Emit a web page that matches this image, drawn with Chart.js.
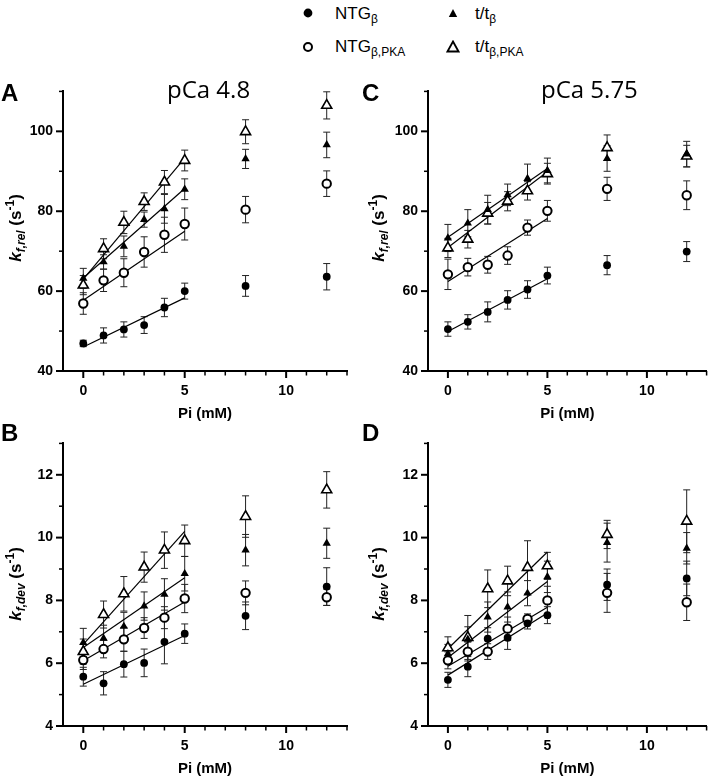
<!DOCTYPE html>
<html>
<head>
<meta charset="utf-8">
<script src="https://cdn.jsdelivr.net/npm/chart.js@4.4.1/dist/chart.umd.min.js"></script>
<style>
  body { margin: 0; background: #fff; font-family: "Liberation Sans", Arial, sans-serif; }
  #page { position: relative; width: 714px; height: 779px; overflow: hidden; }
  canvas { position: absolute; }
  .txt { position: absolute; white-space: nowrap; color: #000; line-height: 1; }
  .leg { font-size: 17px; }
  .leg sub { font-size: 12px; vertical-align: -4px; line-height: 0; }
  .letter { font-size: 24px; font-weight: bold; }
  .pca { font-family: "Open Sans", sans-serif; font-size: 24px; }
  .ytitle { font-size: 17px; font-weight: bold; transform: translate(-50%, -50%) rotate(-90deg); }
  .ytitle sub { font-size: 12px; vertical-align: -4px; line-height: 0; }
  .ytitle sup { font-size: 12px; vertical-align: 7px; line-height: 0; }
  .mk { position: absolute; }
</style>
</head>
<body>
<div id="page">
  <!-- legend -->
  <svg class="mk" style="left:303px;top:8px" width="10" height="10"><circle cx="5" cy="5" r="4.4" fill="#000"/></svg>
  <div class="txt leg" style="left:335px;top:5px">NTG<sub>β</sub></div>
  <svg class="mk" style="left:448px;top:8px" width="10" height="10"><polygon points="5,1 9.2,9 0.8,9" fill="#000"/></svg>
  <div class="txt leg" style="left:475px;top:5px">t/t<sub>β</sub></div>
  <svg class="mk" style="left:302px;top:41px" width="12" height="12"><circle cx="6" cy="6" r="4" fill="#fff" stroke="#000" stroke-width="2"/></svg>
  <div class="txt leg" style="left:335px;top:38px">NTG<sub>β,PKA</sub></div>
  <svg class="mk" style="left:446px;top:40px" width="14" height="13"><polygon points="7,1.5 12.5,11.5 1.5,11.5" fill="#fff" stroke="#000" stroke-width="1.8"/></svg>
  <div class="txt leg" style="left:475px;top:38px">t/t<sub>β,PKA</sub></div>

  <canvas id="chartA" width="357" height="343" style="left:0;top:80px"></canvas>
  <canvas id="chartC" width="354" height="343" style="left:360px;top:80px"></canvas>
  <canvas id="chartB" width="357" height="346" style="left:0;top:432px"></canvas>
  <canvas id="chartD" width="354" height="346" style="left:360px;top:432px"></canvas>

  <div class="txt letter" style="left:1px;top:81px">A</div>
  <div class="txt letter" style="left:362px;top:81px">C</div>
  <div class="txt letter" style="left:1px;top:421px">B</div>
  <div class="txt letter" style="left:362px;top:421px">D</div>

  <div class="txt pca" style="left:167px;top:77px">pCa 4.8</div>
  <div class="txt pca" style="left:541px;top:77px">pCa 5.75</div>

  <div class="txt ytitle" style="left:15px;top:228px"><i>k</i><sub><i>f,rel</i></sub> (s<sup>-1</sup>)</div>
  <div class="txt ytitle" style="left:378px;top:228px"><i>k</i><sub><i>f,rel</i></sub> (s<sup>-1</sup>)</div>
  <div class="txt ytitle" style="left:15px;top:584px"><i>k</i><sub><i>f,dev</i></sub> (s<sup>-1</sup>)</div>
  <div class="txt ytitle" style="left:378px;top:584px"><i>k</i><sub><i>f,dev</i></sub> (s<sup>-1</sup>)</div>
</div>

<script>
// Pi concentrations (mM) and the range of the linear fits
const pi = [0, 1, 2, 3, 4, 5, 8, 12];
const fitPi = [0, 5];

// A: kf,rel at pCa 4.8
const A_ntg = [46.9, 48.9, 50.4, 51.5, 55.9, 60.0, 61.3, 63.6];
const A_ntgErr = [0.8, 1.9, 1.9, 2.1, 2.3, 2.0, 2.6, 3.3];
const A_ntgFit = [46.0, 58.3];
const A_ntgPka = [56.9, 62.7, 64.6, 69.8, 74.1, 76.8, 80.4, 86.9];
const A_ntgPkaErr = [2.7, 2.8, 3.5, 3.8, 4.4, 4.0, 3.3, 3.2];
const A_ntgPkaFit = [57.7, 75.0];
const A_tt = [63.2, 67.3, 71.2, 77.9, 80.6, 85.5, 93.1, 96.6];
const A_ttErr = [2.5, 1.8, 2.6, 1.9, 3.6, 2.6, 2.4, 3.2];
const A_ttFit = [63.3, 85.7];
const A_ttPka = [61.5, 70.6, 77.2, 82.4, 87.3, 92.7, 99.9, 106.5];
const A_ttPkaErr = [2.4, 2.5, 2.8, 2.2, 2.9, 2.6, 3.0, 3.4];
const A_ttPkaFit = [63.0, 93.3];

// C: kf,rel at pCa 5.75
const C_ntg = [50.5, 52.3, 54.8, 57.8, 60.4, 63.9, 66.5, 69.9];
const C_ntgErr = [1.8, 1.8, 2.5, 2.3, 2.2, 2.1, 2.4, 2.5];
const C_ntgFit = [49.9, 63.1];
const C_ntgPka = [64.2, 66.0, 66.6, 68.9, 75.9, 80.1, 85.6, 84.0];
const C_ntgPkaErr = [3.8, 2.2, 2.1, 2.2, 1.9, 2.6, 2.9, 3.6];
const C_ntgPkaFit = [62.4, 78.2];
const C_tt = [73.3, 77.0, 80.4, 84.1, 88.2, 90.2, 93.2, 94.3];
const C_ttErr = [3.4, 3.4, 3.6, 2.7, 3.6, 3.1, 3.2, 3.2];
const C_ttFit = [73.5, 90.7];
const C_ttPka = [70.8, 73.0, 79.5, 82.5, 85.1, 89.4, 95.9, 93.8];
const C_ttPkaErr = [2.4, 2.2, 2.7, 2.4, 2.3, 2.6, 3.2, 2.7];
const C_ttPkaFit = [70.9, 89.9];

// B: kf,dev at pCa 4.8
const B_ntg = [5.57, 5.36, 5.97, 6.01, 6.68, 6.94, 7.51, 8.44];
const B_ntgErr = [0.3, 0.37, 0.41, 0.44, 0.7, 0.31, 0.44, 0.6];
const B_ntgFit = [5.33, 6.88];
const B_ntgPka = [6.1, 6.45, 6.76, 7.12, 7.45, 8.06, 8.24, 8.1];
const B_ntgPkaErr = [0.3, 0.28, 0.38, 0.33, 0.35, 0.45, 0.38, 0.26];
const B_ntgPkaFit = [6.08, 7.95];
const B_tt = [6.66, 6.79, 7.17, 7.82, 8.19, 8.85, 9.6, 9.82];
const B_ttErr = [0.45, 0.42, 0.45, 0.45, 0.5, 0.55, 0.5, 0.48];
const B_ttFit = [6.5, 8.72];
const B_ttPka = [6.37, 7.55, 8.21, 9.06, 9.6, 9.9, 10.67, 11.52];
const B_ttPkaErr = [0.4, 0.43, 0.55, 0.48, 0.58, 0.5, 0.66, 0.58];
const B_ttPkaFit = [6.6, 10.2];

// D: kf,dev at pCa 5.75
const D_ntg = [5.47, 5.89, 6.78, 6.81, 7.27, 7.53, 8.5, 8.7];
const D_ntgErr = [0.24, 0.32, 0.35, 0.37, 0.18, 0.27, 0.5, 0.55];
const D_ntgFit = [5.62, 7.6];
const D_ntgPka = [6.09, 6.37, 6.37, 7.1, 7.41, 8.0, 8.24, 7.94];
const D_ntgPkaErr = [0.27, 0.3, 0.25, 0.37, 0.16, 0.45, 0.62, 0.58];
const D_ntgPkaFit = [5.9, 7.78];
const D_tt = [6.3, 6.76, 7.47, 7.79, 8.23, 8.75, 9.84, 9.66];
const D_ttErr = [0.3, 0.4, 0.48, 0.48, 0.4, 0.5, 0.62, 0.5];
const D_ttFit = [6.18, 8.6];
const D_ttPka = [6.49, 6.82, 8.37, 8.62, 9.05, 9.1, 10.1, 10.52];
const D_ttPkaErr = [0.35, 0.7, 0.6, 0.47, 0.85, 0.43, 0.45, 1.0];
const D_ttPkaFit = [6.46, 9.54];

Chart.defaults.font.family = '"Liberation Sans", Arial, sans-serif';
Chart.defaults.color = '#000';

const markerStyles = {
    ntg:    { pointStyle: 'circle',   pointRadius: 3.9, pointBackgroundColor: '#000', pointBorderColor: '#000', pointBorderWidth: 0, order: 1 },
    ntgPka: { pointStyle: 'circle',   pointRadius: 4.2, pointBackgroundColor: '#fff', pointBorderColor: '#000', pointBorderWidth: 2, order: 2 },
    tt:     { pointStyle: 'triangle', pointRadius: 4.8, pointBackgroundColor: '#000', pointBorderColor: '#000', pointBorderWidth: 0, order: 3 },
    ttPka:  { pointStyle: 'triangle', pointRadius: 5.8, pointBackgroundColor: '#fff', pointBorderColor: '#000', pointBorderWidth: 1.6, order: 4 }
};

// SEM bars, drawn under the markers
const errorBars = {
    id: 'errorBars',
    beforeDatasetsDraw(chart) {
        const { ctx, scales: { x, y } } = chart;
        ctx.save();
        ctx.strokeStyle = '#222';
        ctx.lineWidth = 1;
        chart.data.datasets.forEach(ds => {
            if (!ds.errors) return;
            ds.data.forEach((p, i) => {
                const px = x.getPixelForValue(p.x);
                const hi = y.getPixelForValue(p.y + ds.errors[i]);
                const lo = y.getPixelForValue(p.y - ds.errors[i]);
                ctx.beginPath();
                ctx.moveTo(px, hi); ctx.lineTo(px, lo);
                ctx.moveTo(px - 3.5, hi); ctx.lineTo(px + 3.5, hi);
                ctx.moveTo(px - 3.5, lo); ctx.lineTo(px + 3.5, lo);
                ctx.stroke();
            });
        });
        ctx.restore();
    }
};

// outward tick marks, long for labelled ticks, short for the others
const axisTicks = {
    id: 'axisTicks',
    afterDraw(chart) {
        const { ctx, chartArea, scales: { x, y } } = chart;
        ctx.save();
        ctx.strokeStyle = '#000';
        x.ticks.forEach(t => {
            if (t.value <= x.min) return;
            const major = t.label !== '';
            const px = x.getPixelForValue(t.value);
            ctx.lineWidth = major ? 2 : 1.5;
            ctx.beginPath();
            ctx.moveTo(px, chartArea.bottom);
            ctx.lineTo(px, chartArea.bottom + (major ? 7 : 4.5));
            ctx.stroke();
        });
        y.ticks.forEach(t => {
            const major = t.label !== '';
            const py = y.getPixelForValue(t.value);
            ctx.lineWidth = major ? 2 : 1.5;
            ctx.beginPath();
            ctx.moveTo(chartArea.left, py);
            ctx.lineTo(chartArea.left - (major ? 7 : 4), py);
            ctx.stroke();
        });
        ctx.restore();
    }
};

function makePanel(id, series, yMin, yMax, yLabelStep, yAxisWidth, padRight) {
    const datasets = [];
    series.forEach(s => {
        datasets.push(Object.assign({
            data: pi.map((x, i) => ({ x: x, y: s.vals[i] })),
            errors: s.errs
        }, markerStyles[s.key]));
        datasets.push({
            data: fitPi.map((x, i) => ({ x: x, y: s.fit[i] })),
            showLine: true,
            pointRadius: 0,
            borderColor: '#000',
            borderWidth: 1.2,
            order: 10
        });
    });

    new Chart(document.getElementById(id), {
        type: 'scatter',
        data: { datasets: datasets },
        options: {
            responsive: false,
            animation: false,
            events: [],
            layout: { padding: { top: 10, right: padRight, left: 0, bottom: 0 } },
            plugins: { legend: { display: false }, tooltip: { enabled: false } },
            scales: {
                x: {
                    type: 'linear',
                    min: -1,
                    max: 13,
                    afterFit: s => { s.height = 52; },
                    ticks: {
                        stepSize: 1,
                        autoSkip: false,
                        maxRotation: 0,
                        padding: 5,
                        font: { size: 14, weight: 'bold' },
                        callback: v => (v >= 0 && v % 5 === 0 ? String(v) : '')
                    },
                    grid: { drawOnChartArea: false, drawTicks: true, tickLength: 7, color: 'transparent' },
                    border: { display: true, color: '#000', width: 2 },
                    title: { display: true, text: 'Pi (mM)', font: { size: 15, weight: 'bold' }, padding: 0 }
                },
                y: {
                    type: 'linear',
                    min: yMin,
                    max: yMax,
                    afterFit: s => { s.width = yAxisWidth; },
                    ticks: {
                        stepSize: yLabelStep / 2,
                        autoSkip: false,
                        padding: 3,
                        font: { size: 14, weight: 'bold' },
                        callback: v => (v % yLabelStep === 0 ? String(v) : '')
                    },
                    grid: { drawOnChartArea: false, drawTicks: true, tickLength: 7, color: 'transparent' },
                    border: { display: true, color: '#000', width: 2 }
                }
            }
        },
        plugins: [errorBars, axisTicks]
    });
}

makePanel('chartA', [
    { key: 'ttPka', vals: A_ttPka, errs: A_ttPkaErr, fit: A_ttPkaFit },
    { key: 'tt', vals: A_tt, errs: A_ttErr, fit: A_ttFit },
    { key: 'ntgPka', vals: A_ntgPka, errs: A_ntgPkaErr, fit: A_ntgPkaFit },
    { key: 'ntg', vals: A_ntg, errs: A_ntgErr, fit: A_ntgFit }
], 40, 110, 20, 63, 10);

makePanel('chartC', [
    { key: 'ttPka', vals: C_ttPka, errs: C_ttPkaErr, fit: C_ttPkaFit },
    { key: 'tt', vals: C_tt, errs: C_ttErr, fit: C_ttFit },
    { key: 'ntgPka', vals: C_ntgPka, errs: C_ntgPkaErr, fit: C_ntgPkaFit },
    { key: 'ntg', vals: C_ntg, errs: C_ntgErr, fit: C_ntgFit }
], 40, 110, 20, 68, 3);

makePanel('chartB', [
    { key: 'ttPka', vals: B_ttPka, errs: B_ttPkaErr, fit: B_ttPkaFit },
    { key: 'tt', vals: B_tt, errs: B_ttErr, fit: B_ttFit },
    { key: 'ntgPka', vals: B_ntgPka, errs: B_ntgPkaErr, fit: B_ntgPkaFit },
    { key: 'ntg', vals: B_ntg, errs: B_ntgErr, fit: B_ntgFit }
], 4, 13, 2, 63, 10);

makePanel('chartD', [
    { key: 'ttPka', vals: D_ttPka, errs: D_ttPkaErr, fit: D_ttPkaFit },
    { key: 'tt', vals: D_tt, errs: D_ttErr, fit: D_ttFit },
    { key: 'ntgPka', vals: D_ntgPka, errs: D_ntgPkaErr, fit: D_ntgPkaFit },
    { key: 'ntg', vals: D_ntg, errs: D_ntgErr, fit: D_ntgFit }
], 4, 13, 2, 68, 3);
</script>
</body>
</html>
